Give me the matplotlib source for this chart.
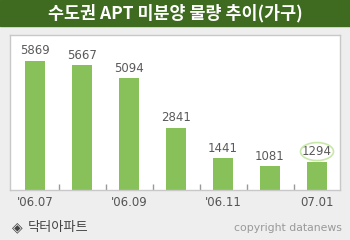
import matplotlib.pyplot as plt
from matplotlib.patches import Ellipse
import numpy as np

plt.rcParams['font.family'] = ['Noto Sans CJK KR', 'DejaVu Sans']

months = ["'06.06", "'06.07", "'06.09", "'06.10", "'06.11", "'06.12", "07.01"]
tick_labels = ["'06.07", "'06.09", "'06.11", "07.01"]
units = [5869, 5667, 5094, 2841, 1441, 1081, 1294]
title = "수도권 APT 미분양 물량 추이(가구)"

W, H = 350, 240
fig = plt.figure(figsize=(3.5, 2.4), dpi=100)
fig.patch.set_facecolor('#eeeeee')

# title band
fig.patches.append(plt.Rectangle((0, 1 - 26 / H), 1, 26 / H, transform=fig.transFigure,
                                 color='#3e6b1f', zorder=0))
fig.text(0.5, 1 - 13.5 / H, title, color='white', fontsize=12.5, ha='center', va='center',
         fontweight='bold')

ax = fig.add_axes([10 / W, 50 / H, 330 / W, 155 / H])
ax.set_facecolor('white')
x = np.arange(len(units))
ax.bar(x, units, width=20 / 47, color='#88c05a', zorder=2)

for xi, v in zip(x, units):
    ax.text(xi, v + 10 / 0.022, str(v), ha='center', va='center', fontsize=8.5,
            color='#5a5a5a', family=['DejaVu Sans'])

# highlight the last value
ax.add_patch(Ellipse((6, units[-1] + 10 / 0.022), 33 / 47, 18 / 0.022, fill=False,
                     edgecolor='#c8e8a8', linewidth=1.2, zorder=3))

ax.set_xlim(-25 / 47, 305 / 47)
ax.set_ylim(0, 7050)
ax.set_yticks([])
ax.set_xticks([0, 2, 4, 6])
ax.set_xticklabels(tick_labels, fontsize=8.5, color='#555555', family=['DejaVu Sans'])
ax.set_xticks(np.arange(0.5, 6, 1), minor=True)
ax.tick_params(axis='x', which='major', length=0, pad=4)
ax.tick_params(axis='x', which='minor', length=4, direction='in', color='#999999', width=1)
for s in ax.spines.values():
    s.set_color('#c8c8c8')
    s.set_linewidth(1)

fig.text(12 / W, 1 - 227 / H, "◈", fontsize=10, color='#444444', ha='left', va='center',
         family=['DejaVu Sans'])
fig.text(28 / W, 1 - 227 / H, "닥터아파트", fontsize=9.5, color='#444444', ha='left', va='center')
fig.text(342 / W, 1 - 228 / H, "copyright datanews", fontsize=7.8, color='#999999',
         ha='right', va='center', family=['DejaVu Sans'])

fig.savefig('out.png', dpi=100, facecolor=fig.get_facecolor())
